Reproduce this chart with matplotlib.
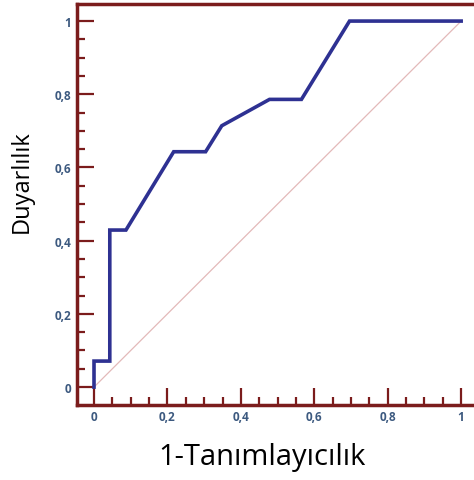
import matplotlib
matplotlib.use('Agg')
import matplotlib.pyplot as plt
from matplotlib.ticker import MultipleLocator, FuncFormatter

# ROC egrisi degerleri
fpr = [0, 0, 0.043, 0.043, 0.087, 0.217, 0.304, 0.348, 0.478, 0.565, 0.696, 1]
tpr = [0, 0.071, 0.071, 0.429, 0.429, 0.643, 0.643, 0.714, 0.786, 0.786, 1, 1]
ref_line = [0, 1]
x_label = '1-Tanımlayıcılık'
y_label = 'Duyarlılık'

spine_c = '#7b1c1c'
tick_txt_c = '#3d5a80'

plt.rcParams['font.family'] = ['Open Sans', 'DejaVu Sans']

fig = plt.figure(figsize=(4.74, 4.81), dpi=100)
ax = fig.add_axes([77.3 / 474, 1 - 406 / 481, 1 - 77.3 / 474, (406 - 4.5) / 481])

ax.plot(ref_line, ref_line, color='#e3b9b9', lw=0.9, zorder=1)
ax.plot(fpr, tpr, color='#2e3192', lw=2.6, solid_joinstyle='miter', zorder=3)

ax.set_xlim(-0.0455, 1.035)
ax.set_ylim(-0.049, 1.048)

for s in ['left', 'bottom', 'top']:
    ax.spines[s].set_color(spine_c)
    ax.spines[s].set_linewidth(2.5)
ax.spines['right'].set_visible(False)

ax.xaxis.set_major_locator(MultipleLocator(0.2))
ax.yaxis.set_major_locator(MultipleLocator(0.2))
ax.xaxis.set_minor_locator(MultipleLocator(0.05))
ax.yaxis.set_minor_locator(MultipleLocator(0.05))

fmt = FuncFormatter(lambda v, p: ('%g' % round(v, 2)).replace('.', ','))
ax.xaxis.set_major_formatter(fmt)
ax.yaxis.set_major_formatter(fmt)

ax.tick_params(which='major', direction='in', length=12, width=1.6, color=spine_c,
               labelsize=8.5, labelcolor=tick_txt_c)
ax.tick_params(axis='x', which='major', pad=3.5)
ax.tick_params(axis='y', which='major', pad=4.5)
ax.tick_params(which='minor', direction='in', length=6, width=1.6, color=spine_c)
for lab in ax.get_xticklabels() + ax.get_yticklabels():
    lab.set_fontweight('bold')

fig.text(262 / 474, 1 - 458 / 481, x_label, fontsize=21, ha='center', va='center')
fig.text(22 / 474, 1 - 182 / 481, y_label, fontsize=17, ha='center', va='center', rotation=90)

plt.savefig('out.png', dpi=100)
